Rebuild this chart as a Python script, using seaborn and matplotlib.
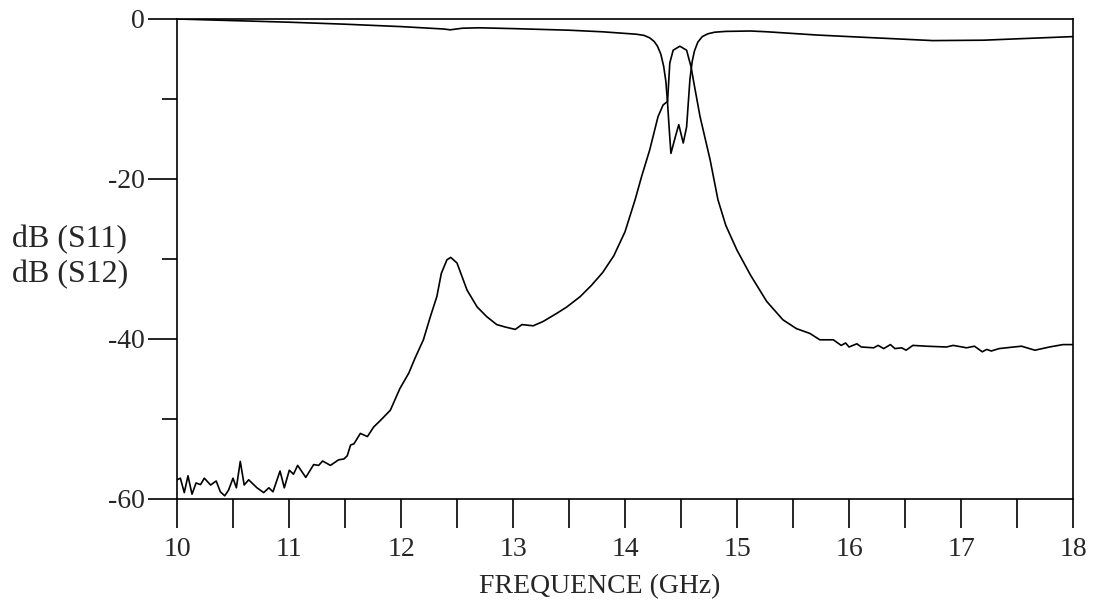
import matplotlib
matplotlib.use("Agg")
import matplotlib.pyplot as plt
import seaborn as sns
import pandas as pd
from matplotlib.ticker import MultipleLocator

# S12 (transmission) trace
s12_freq = [10.0, 10.03, 10.065, 10.098, 10.134, 10.17, 10.21, 10.244, 10.30, 10.35,
            10.387, 10.426, 10.46, 10.50, 10.53, 10.565, 10.60, 10.64, 10.714, 10.774,
            10.82, 10.857, 10.92, 10.958, 11.003, 11.04, 11.077, 11.15, 11.22, 11.265,
            11.30, 11.37, 11.443, 11.49, 11.52, 11.55, 11.58, 11.637, 11.70, 11.756,
            11.815, 11.905, 11.99, 12.07, 12.125, 12.20, 12.26, 12.32, 12.36, 12.41,
            12.444, 12.50, 12.59, 12.68, 12.765, 12.855, 12.93, 13.02, 13.08, 13.18,
            13.27, 13.39, 13.48, 13.60, 13.70, 13.80, 13.90, 14.00, 14.09, 14.15,
            14.22, 14.295, 14.34, 14.38, 14.40, 14.43, 14.49, 14.55, 14.59, 14.61,
            14.67, 14.76, 14.83, 14.90, 15.00, 15.12, 15.265, 15.41, 15.53, 15.65,
            15.74, 15.86, 15.93, 15.97, 16.0, 16.07, 16.11, 16.22, 16.26, 16.31,
            16.37, 16.41, 16.47, 16.51, 16.57, 16.69, 16.87, 16.93, 17.05, 17.12,
            17.19, 17.23, 17.27, 17.34, 17.47, 17.54, 17.66, 17.79, 17.91, 18.0]
s12_db = [-57.6, -57.4, -59.2, -57.1, -59.4, -58.0, -58.2, -57.4, -58.25, -57.75,
          -59.1, -59.6, -58.9, -57.4, -58.6, -55.3, -58.25, -57.6, -58.6, -59.2,
          -58.6, -59.1, -56.5, -58.6, -56.4, -56.9, -55.8, -57.3, -55.7, -55.8,
          -55.25, -55.8, -55.1, -55.0, -54.6, -53.25, -53.1, -51.8, -52.2, -51.0,
          -50.2, -48.9, -46.2, -44.25, -42.4, -40.1, -37.3, -34.7, -31.8, -30.1,
          -29.8, -30.5, -33.9, -36.0, -37.2, -38.2, -38.5, -38.8, -38.2, -38.35,
          -37.8, -36.8, -36.0, -34.7, -33.3, -31.7, -29.6, -26.6, -22.6, -19.6,
          -16.4, -12.2, -10.75, -10.3, -5.5, -3.9, -3.4, -3.9, -6.0, -7.6,
          -12.2, -17.6, -22.6, -25.8, -28.9, -32.0, -35.3, -37.6, -38.7, -39.3,
          -40.1, -40.1, -40.8, -40.5, -41.0, -40.6, -41.0, -41.1, -40.8, -41.2,
          -40.7, -41.2, -41.1, -41.4, -40.8, -40.9, -41.0, -40.8, -41.1, -40.9,
          -41.6, -41.3, -41.5, -41.2, -41.0, -40.9, -41.4, -41.0, -40.7, -40.7]

# S11 (reflection) trace
s11_freq = [10.0, 10.5, 11.0, 11.5, 12.0, 12.38, 12.44, 12.55, 12.7, 13.0,
            13.5, 13.8, 14.0, 14.1, 14.17, 14.22, 14.26, 14.29, 14.32, 14.345,
            14.365, 14.38, 14.395, 14.41, 14.45, 14.48, 14.52, 14.55, 14.565, 14.58,
            14.6, 14.62, 14.65, 14.69, 14.74, 14.8, 14.9, 15.12, 15.27, 15.71,
            16.0, 16.3, 16.75, 17.2, 17.64, 18.0]
s11_db = [0.0, -0.2, -0.4, -0.65, -0.95, -1.25, -1.35, -1.15, -1.1, -1.2,
          -1.4, -1.6, -1.8, -1.9, -2.05, -2.35, -2.8, -3.4, -4.4, -5.9,
          -7.8, -10.5, -13.8, -16.8, -14.7, -13.2, -15.5, -13.5, -10.5, -7.5,
          -5.3, -4.0, -2.9, -2.2, -1.85, -1.65, -1.55, -1.5, -1.6, -2.0,
          -2.2, -2.4, -2.7, -2.65, -2.4, -2.2]

x_major = [10, 11, 12, 13, 14, 15, 16, 17, 18]
y_major = [0, -20, -40, -60]


def main():
    sns.set_style("ticks")
    plt.rcParams['font.family'] = ['Liberation Serif', 'DejaVu Serif']

    fig = plt.figure(figsize=(10.93, 6.10), dpi=100)
    ax = fig.add_axes([177 / 1093, 1 - 499 / 610, 896 / 1093, 480 / 610])

    df11 = pd.DataFrame({'f': s11_freq, 'db': s11_db})
    df12 = pd.DataFrame({'f': s12_freq, 'db': s12_db})
    sns.lineplot(data=df11, x='f', y='db', ax=ax, color='black', linewidth=1.2)
    sns.lineplot(data=df12, x='f', y='db', ax=ax, color='black', linewidth=1.2)

    ax.set_xlim(10, 18)
    ax.set_ylim(-60, 0)
    for s in ax.spines.values():
        s.set_visible(True)
        s.set_linewidth(1.2)
        s.set_color('black')

    ax.set_xticks(x_major)
    ax.set_xticklabels([str(v) for v in x_major])
    ax.xaxis.set_minor_locator(MultipleLocator(0.5))
    ax.set_yticks(y_major)
    ax.set_yticklabels([str(v) for v in y_major])
    ax.yaxis.set_minor_locator(MultipleLocator(10))

    ax.tick_params(axis='x', which='both', direction='out', length=21, width=1.2,
                   labelsize=20, pad=6, color='black')
    ax.tick_params(axis='y', which='major', direction='out', length=21, width=1.2,
                   labelsize=20, pad=2, color='black')
    ax.tick_params(axis='y', which='minor', direction='out', length=10.5, width=1.2,
                   color='black')

    ax.set_xlabel('')
    ax.set_ylabel('')
    fig.text(600 / 1093, 1 - 587 / 610, 'FREQUENCE (GHz)', ha='center', va='center',
             fontsize=20)
    fig.text(12 / 1093, 1 - 257 / 610, 'dB (S11)\ndB (S12)', ha='left', va='center',
             fontsize=23, linespacing=1.28)

    fig.savefig('out.png', dpi=100, facecolor='white')


if __name__ == '__main__':
    main()
